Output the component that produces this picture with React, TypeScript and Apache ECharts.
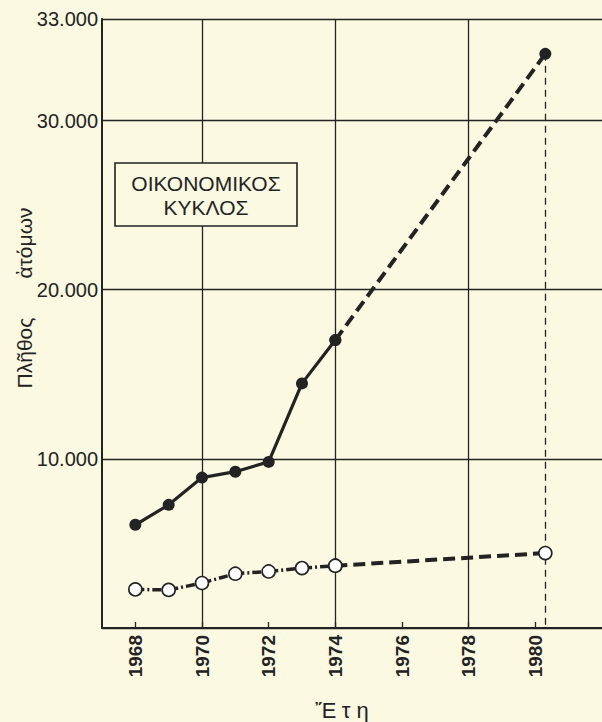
import React, { useEffect, useRef } from 'react';
import * as echarts from 'echarts';

// ---- data ----
const years = [1968, 1969, 1970, 1971, 1972, 1973, 1974];
const totalPersons = [6100, 7280, 8890, 9240, 9820, 14460, 17020];
const otherPersons = [2280, 2250, 2660, 3210, 3340, 3540, 3680];
const projectionYear = 1980.3;
const totalProjection = 33940;
const otherProjection = 4430;

// ---- axis ticks / labels ----
const xTickYears = [1968, 1970, 1972, 1974, 1976, 1978, 1980];
const xGridYears = [1970, 1974, 1978];
const yGridValues = [0, 10000, 20000, 30000, 36000];
const yTickValues = [10000, 20000, 30000, 36000];
const yTickLabels = ['10.000', '20.000', '30.000', '33.000'];

// ---- texts ----
const boxLines = ['ΟΙΚΟΝΟΜΙΚΟΣ', 'ΚΥΚΛΟΣ'];
const yTitleWords = ['Πλῆθος', 'ἀτόμων'];
const xTitle = 'Ἔ τ η';

const BG = '#fbf9e1';
const INK = '#232323';
const FONT = '"Liberation Sans", "DejaVu Sans", sans-serif';

export default function App() {
  const ref = useRef<HTMLDivElement>(null);

  useEffect(() => {
    if (!ref.current) return;
    const chart = echarts.init(ref.current, undefined, { renderer: 'svg' });
    const last = years.length - 1;

    const hollowItem = { color: '#ffffff', borderColor: INK, borderWidth: 1.6 };

    chart.setOption({
      animation: false,
      backgroundColor: BG,
      grid: { left: 102, top: 19, right: 0, bottom: 94, containLabel: false },
      xAxis: {
        type: 'value',
        min: 1967,
        max: 1982,
        axisLine: { show: true, lineStyle: { color: INK, width: 2 } },
        axisTick: {
          show: true,
          inside: true,
          length: 6,
          customValues: xTickYears,
          lineStyle: { color: INK, width: 1.3 },
        },
        axisLabel: {
          customValues: xTickYears,
          rotate: 90,
          margin: 7,
          fontSize: 19,
          fontWeight: 'bold',
          color: INK,
          fontFamily: FONT,
          formatter: (v: number) => String(v),
        },
        splitLine: { show: false },
      },
      yAxis: {
        type: 'value',
        min: 0,
        max: 36000,
        axisLine: { show: true, lineStyle: { color: INK, width: 2 } },
        axisTick: { show: false, customValues: yGridValues },
        axisLabel: {
          customValues: yTickValues,
          margin: 4,
          fontSize: 20,
          color: INK,
          fontFamily: FONT,
          formatter: (v: number) => {
            const i = yTickValues.indexOf(v);
            return i >= 0 ? yTickLabels[i] : '';
          },
        },
        splitLine: { show: true, lineStyle: { color: INK, width: 1.3 } },
      },
      series: [
        {
          name: 'total',
          type: 'line',
          z: 3,
          data: years.map((y, i) => [y, totalPersons[i]]),
          lineStyle: { color: INK, width: 3.2 },
          symbol: 'circle',
          symbolSize: 12,
          itemStyle: { color: INK },
        },
        {
          name: 'totalProjection',
          type: 'line',
          z: 2,
          data: [
            [years[last], totalPersons[last]],
            [projectionYear, totalProjection],
          ],
          lineStyle: { color: INK, width: 4, type: [12, 6] },
          symbol: 'circle',
          symbolSize: 12,
          itemStyle: { color: INK },
          markLine: {
            z: 1,
            silent: true,
            symbol: ['none', 'none'],
            label: { show: false },
            emphasis: { disabled: true },
            data: [
              ...xGridYears.map((y) => ({
                xAxis: y,
                lineStyle: { color: INK, width: 1.3, type: 'solid' },
              })),
              [
                {
                  coord: [projectionYear, totalProjection],
                  lineStyle: { color: INK, width: 1.3, type: [7, 5] },
                },
                { coord: [projectionYear, 0] },
              ],
            ],
          },
        },
        {
          name: 'other',
          type: 'line',
          z: 4,
          data: years.map((y, i) => [y, otherPersons[i]]),
          lineStyle: { color: INK, width: 3.5, type: [9, 3, 2, 3] },
          symbol: 'circle',
          symbolSize: 13,
          itemStyle: hollowItem,
        },
        {
          name: 'otherProjection',
          type: 'line',
          z: 2,
          data: [
            [years[last], otherPersons[last]],
            [projectionYear, otherProjection],
          ],
          lineStyle: { color: INK, width: 4, type: [12, 6] },
          symbol: 'circle',
          symbolSize: 13,
          itemStyle: hollowItem,
        },
      ],
      graphic: [
        {
          type: 'rect',
          z: 100,
          shape: { x: 115, y: 163, width: 182, height: 63 },
          style: { fill: BG, stroke: INK, lineWidth: 1.6 },
        },
        {
          type: 'text',
          z: 101,
          x: 206,
          y: 183,
          style: {
            text: boxLines[0],
            fontSize: 21,
            fontFamily: FONT,
            fill: INK,
            align: 'center',
            verticalAlign: 'middle',
          },
        },
        {
          type: 'text',
          z: 101,
          x: 206,
          y: 207,
          style: {
            text: boxLines[1],
            fontSize: 21,
            fontFamily: FONT,
            fill: INK,
            align: 'center',
            verticalAlign: 'middle',
          },
        },
        {
          type: 'text',
          z: 101,
          x: 24,
          y: 353,
          rotation: Math.PI / 2,
          style: {
            text: yTitleWords[0],
            fontSize: 21,
            fontFamily: FONT,
            fill: INK,
            align: 'center',
            verticalAlign: 'middle',
          },
        },
        {
          type: 'text',
          z: 101,
          x: 24,
          y: 243,
          rotation: Math.PI / 2,
          style: {
            text: yTitleWords[1],
            fontSize: 21,
            fontFamily: FONT,
            fill: INK,
            align: 'center',
            verticalAlign: 'middle',
          },
        },
        {
          type: 'text',
          z: 101,
          x: 342,
          y: 710,
          style: {
            text: xTitle,
            fontSize: 22,
            fontFamily: FONT,
            fill: INK,
            align: 'center',
            verticalAlign: 'middle',
          },
        },
      ],
    });

    return () => chart.dispose();
  }, []);

  return (
    <div
      ref={ref}
      style={{ position: 'absolute', left: 0, top: 0, width: 602, height: 722, background: BG }}
    />
  );
}
